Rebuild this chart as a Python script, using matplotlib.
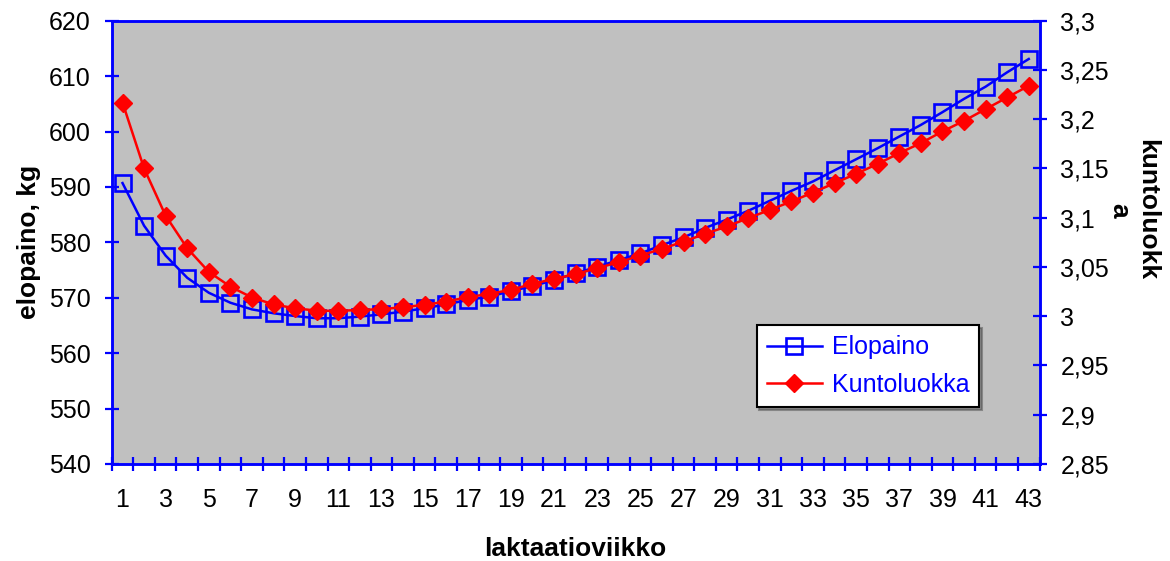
import matplotlib
matplotlib.use("Agg")
import matplotlib.pyplot as plt
import numpy as np
from matplotlib.ticker import FixedLocator, FuncFormatter

plt.rcParams["font.family"] = ["Liberation Sans", "DejaVu Sans"]

weeks = np.arange(1, 44)

# Elopaino (kg), left axis
elopaino = [590.7, 583.0, 577.6, 573.6, 570.9, 569.1, 567.9, 567.2, 566.7, 566.3,
            566.3, 566.6, 567.0, 567.5, 568.1, 568.8, 569.6, 570.2, 571.2, 572.1,
            573.2, 574.4, 575.6, 576.8, 578.0, 579.5, 580.9, 582.6, 584.1, 585.7,
            587.5, 589.3, 591.0, 593.0, 595.0, 597.0, 599.1, 601.2, 603.5, 605.9,
            608.1, 610.7, 613.1]

# Kuntoluokka, right axis
kuntoluokka = [3.217, 3.150, 3.102, 3.069, 3.045, 3.030, 3.019, 3.012, 3.008, 3.0057,
               3.0054, 3.0064, 3.0071, 3.0092, 3.0115, 3.0149, 3.0193, 3.0227, 3.0268, 3.0328,
               3.0379, 3.0427, 3.0488, 3.0549, 3.0616, 3.0684, 3.0758, 3.0836, 3.0911, 3.0996,
               3.108, 3.1165, 3.1256, 3.1351, 3.1446, 3.1547, 3.1656, 3.1758, 3.1876, 3.1984,
               3.2103, 3.2221, 3.234]

left_ticks = [540, 550, 560, 570, 580, 590, 600, 610, 620]
right_ticks = [2.85, 2.9, 2.95, 3.0, 3.05, 3.1, 3.15, 3.2, 3.25, 3.3]

BLUE = "#0000FF"
RED = "#FF0000"
FS = 18
LFS = 19

fig = plt.figure(figsize=(11.7, 5.61), dpi=100)
ax = fig.add_axes([0.0955, 0.173, 0.793, 0.790])
ax.set_facecolor("#C0C0C0")
ax2 = ax.twinx()

l1, = ax.plot(weeks, elopaino, color=BLUE, lw=1.8, marker="s", markersize=11,
              markerfacecolor="none", markeredgecolor=BLUE, markeredgewidth=1.9,
              label="Elopaino", zorder=3)
l2, = ax2.plot(weeks, kuntoluokka, color=RED, lw=1.8, marker="D", markersize=9.5,
               markerfacecolor=RED, markeredgecolor=RED, label="Kuntoluokka", zorder=3)

ax.set_xlim(0.5, 43.5)
ax.set_ylim(540, 620)
ax2.set_ylim(2.85, 3.3)

# category boundaries as ticks, odd weeks as labels
ax.xaxis.set_major_locator(FixedLocator(np.arange(0.5, 44, 1)))
ax.xaxis.set_major_formatter(FuncFormatter(lambda v, p: ""))
ax.xaxis.set_minor_locator(FixedLocator(weeks[::2]))
ax.xaxis.set_minor_formatter(FuncFormatter(lambda v, p: f"{int(round(v))}"))
ax.tick_params(axis="x", which="major", direction="inout", length=10, width=1.6, color=BLUE)
ax.tick_params(axis="x", which="minor", length=0, pad=17, labelsize=FS)

ax.set_yticks(left_ticks)
ax.tick_params(axis="y", direction="inout", length=10, width=1.6, color=BLUE,
               labelsize=FS, pad=10)
ax2.set_yticks(right_ticks)
ax2.yaxis.set_major_formatter(FuncFormatter(lambda v, p: f"{v:g}".replace(".", ",")))
ax2.tick_params(axis="y", direction="inout", length=10, width=1.6, color=BLUE,
                labelsize=FS, pad=10)

for a in (ax, ax2):
    for s in a.spines.values():
        s.set_color(BLUE)
        s.set_linewidth(1.8)

ax.set_xlabel("laktaatioviikko", fontsize=LFS, fontweight="bold", labelpad=18)
ax.set_ylabel("elopaino, kg", fontsize=LFS, fontweight="bold", labelpad=6)
ax2.set_ylabel("kuntoluokk\na", fontsize=LFS, fontweight="bold", rotation=270,
               multialignment="center", va="center")
ax2.yaxis.set_label_coords(1.101, 0.573)

leg = ax.legend([l1, l2], ["Elopaino", "Kuntoluokka"], loc="lower left",
                bbox_to_anchor=(0.695, 0.128), fontsize=FS, frameon=True,
                fancybox=False, shadow=True, handlelength=2.2, borderpad=0.4,
                labelspacing=0.55, handletextpad=0.4, borderaxespad=0)
leg.get_frame().set_edgecolor("black")
leg.get_frame().set_linewidth(1.5)
for t in leg.get_texts():
    t.set_color(BLUE)
leg.remove()
ax2.add_artist(leg)

fig.savefig("out.png", dpi=100)
